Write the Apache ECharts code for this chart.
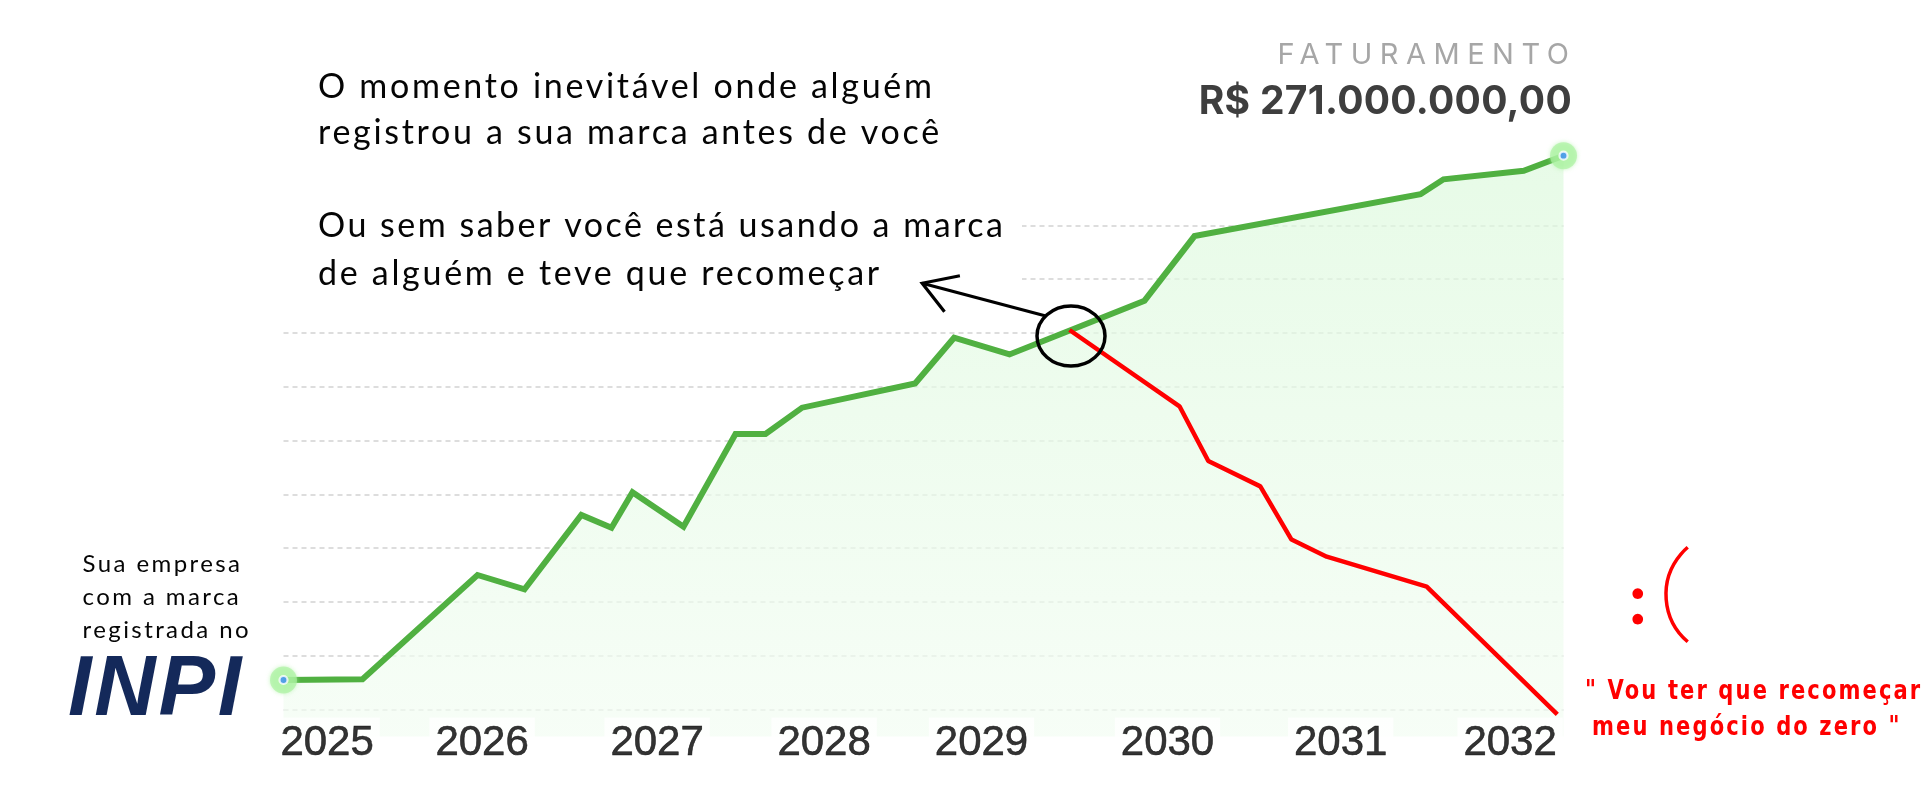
<!DOCTYPE html>
<html><head><meta charset="utf-8">
<script src="https://cdn.jsdelivr.net/npm/echarts@6/dist/echarts.min.js"></script>
<style>html,body{margin:0;padding:0;background:#fff}#c{width:1930px;height:789px}</style>
</head><body><div id="c"></div>
<script>
// ---- data (x in 20px steps, y in gridline units of 10) ----
const greenX = [0, 3.95, 9.7, 12.05, 14.89, 16.4, 17.45, 20.0, 22.6, 24.1, 25.93, 31.58, 33.53, 36.3, 43.05, 45.55, 56.85, 58.0, 62.01, 64];
const greenY = [5.48, 5.61, 25.0, 22.34, 36.15, 33.79, 40.37, 33.98, 51.2, 51.2, 56.1, 60.6, 69.1, 66.0, 75.99, 88.0, 95.78, 98.55, 100.15, 102.94];
const redX = [39.3, 44.8, 46.24, 48.84, 50.4, 52.16, 57.16, 63.69];
const redY = [70.54, 56.36, 46.19, 41.47, 31.58, 28.4, 22.83, -0.89];
const yearLabels = ['2025', '2026', '2027', '2028', '2029', '2030', '2031', '2032'];
const yearX = [2.18, 9.93, 18.68, 27.03, 34.9, 44.2, 52.86, 61.33];
const gridValues = [0, 10, 20, 30, 40, 50, 60, 70, 80, 90];

// letter spacing for specific texts (canvas letterSpacing)
const SPACING = {
  'FATURAMENTO': 7.5,
  'R$ 271.000.000,00': 0.3,
  'O momento inevitável onde alguém': 2.7,
  'registrou a sua marca antes de você': 2.7,
  'Ou sem saber você está usando a marca': 2.5,
  'de alguém e teve que recomeçar': 2.7,
  'Sua empresa': 2.4,
  'com a marca': 2.4,
  'registrada no': 2.4
};
(function(){
  const proto = CanvasRenderingContext2D.prototype;
  const orig = proto.fillText;
  proto.fillText = function(t){
    const s = SPACING[t];
    if (s && ('letterSpacing' in this)) {
      const prev = this.letterSpacing;
      this.letterSpacing = s + 'px';
      const r = orig.apply(this, arguments);
      this.letterSpacing = prev;
      return r;
    }
    return orig.apply(this, arguments);
  };
})();

const zip = (xs, ys) => xs.map((x, i) => [x, ys[i]]);
const greenData = zip(greenX, greenY);
const redData = zip(redX, redY);
const ends = [greenData[0], greenData[greenData.length - 1]];

const chart = echarts.init(document.getElementById('c'), null, {renderer: 'canvas'});
chart.setOption({
  animation: false,
  backgroundColor: '#ffffff',
  grid: {left: 283.5, top: 117.7, width: 1280, height: 618.7},
  xAxis: {type: 'value', min: 0, max: 64, show: false},
  yAxis: {type: 'value', min: -5, max: 110, show: false, splitLine: {show: false}},
  series: [
    {
      type: 'line', data: greenData, symbol: 'none', z: 3,
      lineStyle: {color: '#50b041', width: 6, join: 'miter'},
      areaStyle: {origin: 'start', color: new echarts.graphic.LinearGradient(0, 0, 0, 1, [
        {offset: 0, color: '#ddf9dd'}, {offset: 1, color: '#f3fdf3'}])},
      markLine: {
        silent: true, symbol: 'none', z: 1,
        label: {show: false},
        lineStyle: {color: '#d2d2d2', type: [5, 4], width: 1.5},
        data: gridValues.map(v => ({yAxis: v}))
      }
    },
    {
      type: 'line', data: redData, symbol: 'none', z: 4,
      lineStyle: {color: '#ff0000', width: 4.5}
    },
    {
      type: 'scatter', data: ends, symbolSize: 27, z: 5, silent: true,
      itemStyle: {color: 'rgba(170,242,160,0.85)', shadowBlur: 4, shadowColor: 'rgba(170,242,160,0.9)'}
    },
    {
      type: 'scatter', data: ends, symbolSize: 8, z: 6, silent: true,
      itemStyle: {color: '#3b8cf7', borderColor: '#ffffff', borderWidth: 2.2}
    },
    {
      type: 'scatter', clip: false, silent: true, z: 7,
      data: yearX.map((x, i) => ({value: [x, -5], name: yearLabels[i]})),
      symbolSize: 0,
      label: {
        show: true, position: 'inside', offset: [0, 7],
        formatter: p => p.name,
        fontFamily: '"Liberation Sans", Arial, sans-serif', fontSize: 42, color: '#000',
        textBorderColor: '#000', textBorderWidth: 0.6,
        backgroundColor: '#ffffff', padding: [5, 6, 5, 6], lineHeight: 42
      }
    }
  ]
});

const p = chart.convertToPixel({gridIndex: 0}, redData[0]);
const px = p[0], py = p[1];
const txt = (text, x, y, font, fill, align, extra) => Object.assign({
  type: 'text', x: x, y: y, z: 20, silent: true,
  style: {text: text, font: font, fill: fill, textAlign: align || 'left', textVerticalAlign: 'middle'}
}, extra || {});
const bodyFont = '34px Lato, sans-serif';
const redFont = 'bold 27px "DejaVu Sans", sans-serif';
chart.setOption({
  graphic: [
    {type: 'rect', z: 10, silent: true, shape: {x: 0, y: 0, width: 1022, height: 296}, style: {fill: '#ffffff'}},
    txt('O momento inevitável onde alguém', 318, 87, bodyFont, '#050505'),
    txt('registrou a sua marca antes de você', 318, 133, bodyFont, '#050505'),
    txt('Ou sem saber você está usando a marca', 318, 226, bodyFont, '#050505'),
    txt('de alguém e teve que recomeçar', 318, 274, bodyFont, '#050505'),
    txt('FATURAMENTO', 1569 + 7.5, 55, '400 29px Inter, sans-serif', '#a6a6a6', 'right'),
    txt('R$ 271.000.000,00', 1572, 102.5, '700 39px Inter, sans-serif', '#3e3e3e', 'right'),
    txt('Sua empresa', 82.6, 564.7, '24px Lato, sans-serif', '#050505'),
    txt('com a marca', 82.6, 597.4, '24px Lato, sans-serif', '#050505'),
    txt('registrada no', 82.6, 630.4, '24px Lato, sans-serif', '#050505'),
    txt('INPI', 68, 692, 'italic 900 85px "Liberation Sans", Arial, sans-serif', '#14295a'),
    txt('" Vou ter que recomeçar', 1585, 691.7, redFont, '#ff0000', 'left', {scaleX: 0.78}),
    txt('meu negócio do zero "', 1592, 728.3, redFont, '#ff0000', 'left', {scaleX: 0.78}),
    txt(':', 1639, 601, 'bold 70px Lato, sans-serif', '#ff0000', 'center'),
    {type: 'arc', z: 20, silent: true,
      shape: {cx: 1728.2, cy: 594.5, r: 62.2, startAngle: 130.6 * Math.PI / 180, endAngle: 229.4 * Math.PI / 180, clockwise: true},
      style: {stroke: '#ff0000', lineWidth: 3.5, fill: null}},
    {type: 'ellipse', z: 21, silent: true,
      shape: {cx: px + 1.5, cy: py + 6, rx: 34, ry: 30},
      style: {stroke: '#000000', lineWidth: 3.5, fill: null}},
    {type: 'polyline', z: 21, silent: true,
      shape: {points: [[px - 24.6, py - 14.3], [px - 147.3, py - 46.7]]},
      style: {stroke: '#000000', lineWidth: 3.2, fill: null}},
    {type: 'polyline', z: 21, silent: true,
      shape: {points: [[px - 109.6, py - 54.3], [px - 147.3, py - 46.7], [px - 125, py - 18.3]]},
      style: {stroke: '#000000', lineWidth: 3.2, fill: null, lineJoin: 'miter'}}
  ]
});
</script>
</body></html>
